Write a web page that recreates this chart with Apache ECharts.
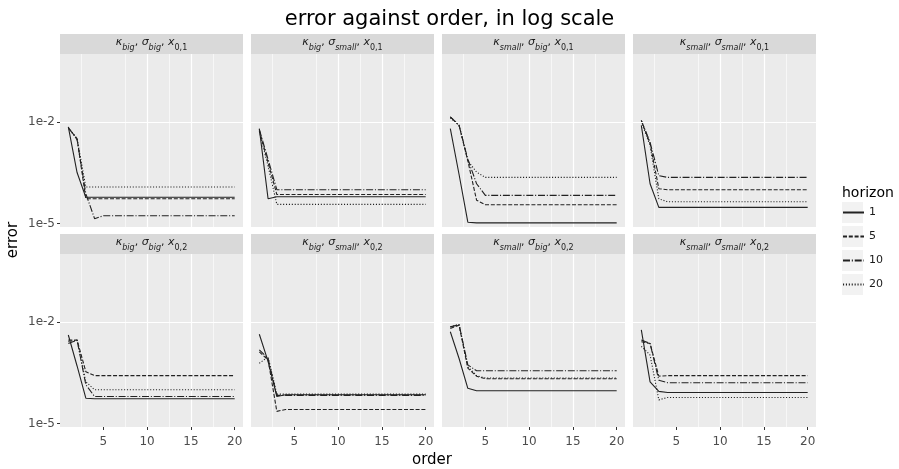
<!DOCTYPE html>
<html><head><meta charset="utf-8">
<script src="https://cdn.jsdelivr.net/npm/echarts@6/dist/echarts.min.js"></script>
<style>html,body{margin:0;padding:0;background:#fff}#c{width:899px;height:469px}</style>
</head><body><div id="c"></div>
<script>
// ---------------- data ----------------
const orders = [1,2,3,4,5,6,7,8,9,10,11,12,13,14,15,16,17,18,19,20];
const horizons = ['1','5','10','20'];
const yTickValues = [1e-2, 1e-5];
const yTickLabels = ['1e-2', '1e-5'];
const xTickValues = [5, 10, 15, 20];
const kappaSub = ['big', 'big', 'small', 'small'];
const sigmaSub = ['big', 'small', 'big', 'small'];
const x0Sub = ['0,1', '0,2'];

// each panel: [horizon 1, horizon 5, horizon 10, horizon 20], error by order 1..20
const kbig_sbig_x1 = [
  [7.1e-3,3.2e-4,6.0e-5,6.0e-5,6.0e-5,6.0e-5,6.0e-5,6.0e-5,6.0e-5,6.0e-5,6.0e-5,6.0e-5,6.0e-5,6.0e-5,6.0e-5,6.0e-5,6.0e-5,6.0e-5,6.0e-5,6.0e-5],
  [6.5e-3,3.2e-3,5.4e-5,5.4e-5,5.4e-5,5.4e-5,5.4e-5,5.4e-5,5.4e-5,5.4e-5,5.4e-5,5.4e-5,5.4e-5,5.4e-5,5.4e-5,5.4e-5,5.4e-5,5.4e-5,5.4e-5,5.4e-5],
  [6.8e-3,3.0e-3,7.6e-5,1.4e-5,1.7e-5,1.7e-5,1.7e-5,1.7e-5,1.7e-5,1.7e-5,1.7e-5,1.7e-5,1.7e-5,1.7e-5,1.7e-5,1.7e-5,1.7e-5,1.7e-5,1.7e-5,1.7e-5],
  [6.8e-3,3.2e-3,1.2e-4,1.2e-4,1.2e-4,1.2e-4,1.2e-4,1.2e-4,1.2e-4,1.2e-4,1.2e-4,1.2e-4,1.2e-4,1.2e-4,1.2e-4,1.2e-4,1.2e-4,1.2e-4,1.2e-4,1.2e-4]
];
const kbig_ssmall_x1 = [
  [6.3e-3,5.4e-5,6.2e-5,6.2e-5,6.2e-5,6.2e-5,6.2e-5,6.2e-5,6.2e-5,6.2e-5,6.2e-5,6.2e-5,6.2e-5,6.2e-5,6.2e-5,6.2e-5,6.2e-5,6.2e-5,6.2e-5,6.2e-5],
  [5.6e-3,6.3e-4,7.2e-5,7.2e-5,7.2e-5,7.2e-5,7.2e-5,7.2e-5,7.2e-5,7.2e-5,7.2e-5,7.2e-5,7.2e-5,7.2e-5,7.2e-5,7.2e-5,7.2e-5,7.2e-5,7.2e-5,7.2e-5],
  [6.0e-3,7.9e-4,1.0e-4,1.0e-4,1.0e-4,1.0e-4,1.0e-4,1.0e-4,1.0e-4,1.0e-4,1.0e-4,1.0e-4,1.0e-4,1.0e-4,1.0e-4,1.0e-4,1.0e-4,1.0e-4,1.0e-4,1.0e-4],
  [5.2e-3,5.0e-4,3.7e-5,3.7e-5,3.7e-5,3.7e-5,3.7e-5,3.7e-5,3.7e-5,3.7e-5,3.7e-5,3.7e-5,3.7e-5,3.7e-5,3.7e-5,3.7e-5,3.7e-5,3.7e-5,3.7e-5,3.7e-5]
];
const ksmall_sbig_x1 = [
  [6.3e-3,2.8e-4,1.1e-5,1.05e-5,1.05e-5,1.05e-5,1.05e-5,1.05e-5,1.05e-5,1.05e-5,1.05e-5,1.05e-5,1.05e-5,1.05e-5,1.05e-5,1.05e-5,1.05e-5,1.05e-5,1.05e-5,1.05e-5],
  [1.4e-2,7.9e-3,7.1e-4,4.9e-5,3.6e-5,3.6e-5,3.6e-5,3.6e-5,3.6e-5,3.6e-5,3.6e-5,3.6e-5,3.6e-5,3.6e-5,3.6e-5,3.6e-5,3.6e-5,3.6e-5,3.6e-5,3.6e-5],
  [1.4e-2,7.9e-3,7.9e-4,1.5e-4,6.8e-5,6.8e-5,6.8e-5,6.8e-5,6.8e-5,6.8e-5,6.8e-5,6.8e-5,6.8e-5,6.8e-5,6.8e-5,6.8e-5,6.8e-5,6.8e-5,6.8e-5,6.8e-5],
  [1.3e-2,7.9e-3,7.1e-4,3.3e-4,2.3e-4,2.3e-4,2.3e-4,2.3e-4,2.3e-4,2.3e-4,2.3e-4,2.3e-4,2.3e-4,2.3e-4,2.3e-4,2.3e-4,2.3e-4,2.3e-4,2.3e-4,2.3e-4]
];
const ksmall_ssmall_x1 = [
  [7.9e-3,1.5e-4,3.0e-5,3.0e-5,3.0e-5,3.0e-5,3.0e-5,3.0e-5,3.0e-5,3.0e-5,3.0e-5,3.0e-5,3.0e-5,3.0e-5,3.0e-5,3.0e-5,3.0e-5,3.0e-5,3.0e-5,3.0e-5],
  [1.1e-2,2.3e-3,1.07e-4,1.0e-4,1.0e-4,1.0e-4,1.0e-4,1.0e-4,1.0e-4,1.0e-4,1.0e-4,1.0e-4,1.0e-4,1.0e-4,1.0e-4,1.0e-4,1.0e-4,1.0e-4,1.0e-4,1.0e-4],
  [1.1e-2,2.5e-3,2.6e-4,2.3e-4,2.3e-4,2.3e-4,2.3e-4,2.3e-4,2.3e-4,2.3e-4,2.3e-4,2.3e-4,2.3e-4,2.3e-4,2.3e-4,2.3e-4,2.3e-4,2.3e-4,2.3e-4,2.3e-4],
  [1.0e-2,2.0e-3,5.4e-5,4.4e-5,4.4e-5,4.4e-5,4.4e-5,4.4e-5,4.4e-5,4.4e-5,4.4e-5,4.4e-5,4.4e-5,4.4e-5,4.4e-5,4.4e-5,4.4e-5,4.4e-5,4.4e-5,4.4e-5]
];
const kbig_sbig_x2 = [
  [4.1e-3,5.0e-4,5.6e-5,5.4e-5,5.4e-5,5.4e-5,5.4e-5,5.4e-5,5.4e-5,5.4e-5,5.4e-5,5.4e-5,5.4e-5,5.4e-5,5.4e-5,5.4e-5,5.4e-5,5.4e-5,5.4e-5,5.4e-5],
  [2.9e-3,2.9e-3,3.4e-4,2.6e-4,2.6e-4,2.6e-4,2.6e-4,2.6e-4,2.6e-4,2.6e-4,2.6e-4,2.6e-4,2.6e-4,2.6e-4,2.6e-4,2.6e-4,2.6e-4,2.6e-4,2.6e-4,2.6e-4],
  [2.3e-3,2.9e-3,1.4e-4,6.3e-5,6.3e-5,6.3e-5,6.3e-5,6.3e-5,6.3e-5,6.3e-5,6.3e-5,6.3e-5,6.3e-5,6.3e-5,6.3e-5,6.3e-5,6.3e-5,6.3e-5,6.3e-5,6.3e-5],
  [2.6e-3,2.9e-3,1.7e-4,1.0e-4,1.0e-4,1.0e-4,1.0e-4,1.0e-4,1.0e-4,1.0e-4,1.0e-4,1.0e-4,1.0e-4,1.0e-4,1.0e-4,1.0e-4,1.0e-4,1.0e-4,1.0e-4,1.0e-4]
];
const kbig_ssmall_x2 = [
  [4.3e-3,6.8e-4,6.3e-5,7.1e-5,7.1e-5,7.1e-5,7.1e-5,7.1e-5,7.1e-5,7.1e-5,7.1e-5,7.1e-5,7.1e-5,7.1e-5,7.1e-5,7.1e-5,7.1e-5,7.1e-5,7.1e-5,7.1e-5],
  [1.3e-3,7.6e-4,2.3e-5,2.6e-5,2.6e-5,2.6e-5,2.6e-5,2.6e-5,2.6e-5,2.6e-5,2.6e-5,2.6e-5,2.6e-5,2.6e-5,2.6e-5,2.6e-5,2.6e-5,2.6e-5,2.6e-5,2.6e-5],
  [1.5e-3,8.3e-4,6.8e-5,6.8e-5,6.8e-5,6.8e-5,6.8e-5,6.8e-5,6.8e-5,6.8e-5,6.8e-5,6.8e-5,6.8e-5,6.8e-5,6.8e-5,6.8e-5,6.8e-5,6.8e-5,6.8e-5,6.8e-5],
  [6.0e-4,9.3e-4,7.4e-5,7.4e-5,7.4e-5,7.4e-5,7.4e-5,7.4e-5,7.4e-5,7.4e-5,7.4e-5,7.4e-5,7.4e-5,7.4e-5,7.4e-5,7.4e-5,7.4e-5,7.4e-5,7.4e-5,7.4e-5]
];
const ksmall_sbig_x2 = [
  [5.1e-3,8.3e-4,1.1e-4,9.3e-5,9.3e-5,9.3e-5,9.3e-5,9.3e-5,9.3e-5,9.3e-5,9.3e-5,9.3e-5,9.3e-5,9.3e-5,9.3e-5,9.3e-5,9.3e-5,9.3e-5,9.3e-5,9.3e-5],
  [6.4e-3,8.0e-3,4.3e-4,2.5e-4,2.1e-4,2.1e-4,2.1e-4,2.1e-4,2.1e-4,2.1e-4,2.1e-4,2.1e-4,2.1e-4,2.1e-4,2.1e-4,2.1e-4,2.1e-4,2.1e-4,2.1e-4,2.1e-4],
  [7.1e-3,8.3e-3,5.4e-4,3.6e-4,3.6e-4,3.6e-4,3.6e-4,3.6e-4,3.6e-4,3.6e-4,3.6e-4,3.6e-4,3.6e-4,3.6e-4,3.6e-4,3.6e-4,3.6e-4,3.6e-4,3.6e-4,3.6e-4],
  [7.1e-3,8.3e-3,4.8e-4,2.6e-4,2.2e-4,2.2e-4,2.2e-4,2.2e-4,2.2e-4,2.2e-4,2.2e-4,2.2e-4,2.2e-4,2.2e-4,2.2e-4,2.2e-4,2.2e-4,2.2e-4,2.2e-4,2.2e-4]
];
const ksmall_ssmall_x2 = [
  [5.8e-3,1.7e-4,8.9e-5,8.3e-5,8.3e-5,8.3e-5,8.3e-5,8.3e-5,8.3e-5,8.3e-5,8.3e-5,8.3e-5,8.3e-5,8.3e-5,8.3e-5,8.3e-5,8.3e-5,8.3e-5,8.3e-5,8.3e-5],
  [2.6e-3,2.3e-3,2.5e-4,2.6e-4,2.6e-4,2.6e-4,2.6e-4,2.6e-4,2.6e-4,2.6e-4,2.6e-4,2.6e-4,2.6e-4,2.6e-4,2.6e-4,2.6e-4,2.6e-4,2.6e-4,2.6e-4,2.6e-4],
  [2.9e-3,2.3e-3,1.9e-4,1.6e-4,1.6e-4,1.6e-4,1.6e-4,1.6e-4,1.6e-4,1.6e-4,1.6e-4,1.6e-4,1.6e-4,1.6e-4,1.6e-4,1.6e-4,1.6e-4,1.6e-4,1.6e-4,1.6e-4],
  [1.9e-3,1.05e-3,5.0e-5,5.9e-5,5.9e-5,5.9e-5,5.9e-5,5.9e-5,5.9e-5,5.9e-5,5.9e-5,5.9e-5,5.9e-5,5.9e-5,5.9e-5,5.9e-5,5.9e-5,5.9e-5,5.9e-5,5.9e-5]
];
const panels = [
  [kbig_sbig_x1, kbig_ssmall_x1, ksmall_sbig_x1, ksmall_ssmall_x1],
  [kbig_sbig_x2, kbig_ssmall_x2, ksmall_sbig_x2, ksmall_ssmall_x2]
];

// ---------------- layout / style ----------------
const FONT = 'DejaVu Sans';
const colLeft = [60, 251, 442, 633];
const colW = 183;
const rowTop = [54, 254];
const rowH = 173;
const stripH = 20;
const lineTypes = ['solid', [4, 1.8], [7, 1.8, 1.1, 1.8], [1.1, 1.8]];

const grids = [], xAxes = [], yAxes = [], series = [], graphics = [];

for (let r = 0; r < 2; r++) {
  for (let c = 0; c < 4; c++) {
    const idx = r * 4 + c;
    grids.push({left: colLeft[c], top: rowTop[r], width: colW, height: rowH,
      show: true, backgroundColor: '#EBEBEB', borderWidth: 0});
    xAxes.push({type: 'value', gridIndex: idx, min: 0.05, max: 20.95, splitNumber: 4,
      axisLine: {show: false},
      axisTick: {show: r === 1, customValues: xTickValues, length: 3, lineStyle: {color: '#333', width: 1}},
      axisLabel: {show: r === 1, customValues: xTickValues, color: '#4D4D4D', fontSize: 12, fontFamily: FONT, margin: 9},
      splitLine: {show: true, showMinLine: false, showMaxLine: false, lineStyle: {color: '#fff', width: 1.2}},
      minorTick: {show: false, splitNumber: 2},
      minorSplitLine: {show: true, lineStyle: {color: '#fff', width: 0.6}}
    });
    yAxes.push({type: 'log', logBase: 10, gridIndex: idx, min: Math.pow(10, -5.1), max: 1,
      axisLine: {show: false},
      axisTick: {show: c === 0, customValues: yTickValues, length: 3, lineStyle: {color: '#333', width: 1}},
      axisLabel: {show: c === 0, customValues: yTickValues, color: '#4D4D4D', fontSize: 12, fontFamily: FONT, margin: 5,
        formatter: function (v) {
          for (let i = 0; i < yTickValues.length; i++) {
            if (Math.abs(Math.log10(v) - Math.log10(yTickValues[i])) < 1e-6) return yTickLabels[i];
          }
          return '';
        }},
      splitLine: {show: true, showMinLine: false, showMaxLine: false, lineStyle: {color: '#fff', width: 0.6}}
    });
    // major horizontal gridlines (thicker)
    series.push({type: 'line', xAxisIndex: idx, yAxisIndex: idx, data: [], z: 1, silent: true,
      markLine: {silent: true, symbol: ['none', 'none'], animation: false, label: {show: false},
        lineStyle: {color: '#fff', width: 1.2, type: 'solid'},
        data: yTickValues.map(v => ({yAxis: v}))}
    });
    const pd = panels[r][c];
    for (let k = 0; k < horizons.length; k++) {
      series.push({type: 'line', name: horizons[k], xAxisIndex: idx, yAxisIndex: idx,
        data: orders.map((o, j) => [o, pd[k][j]]),
        symbol: 'none', silent: true, z: 3,
        lineStyle: {color: '#222', width: 1.1, type: lineTypes[k]}
      });
    }
    // strip
    graphics.push({type: 'rect', z: 0, shape: {x: colLeft[c], y: rowTop[r] - stripH, width: colW, height: stripH},
      style: {fill: '#D9D9D9'}});
    graphics.push({type: 'text', z: 1, x: colLeft[c] + colW / 2, y: rowTop[r] - stripH / 2,
      style: {
        text: '{m|κ}{s|' + kappaSub[c] + '}{n|, }{m|σ}{s|' + sigmaSub[c] + '}{n|, }{m|x}{d|' + x0Sub[r] + '}',
        align: 'center', verticalAlign: 'middle',
        rich: {
          m: {fontFamily: FONT, fontStyle: 'italic', fontSize: 11, fill: '#1A1A1A', lineHeight: 15, verticalAlign: 'top'},
          n: {fontFamily: FONT, fontSize: 11, fill: '#1A1A1A', lineHeight: 15, verticalAlign: 'top'},
          s: {fontFamily: FONT, fontStyle: 'italic', fontSize: 8, fill: '#1A1A1A', lineHeight: 8, verticalAlign: 'bottom'},
          d: {fontFamily: FONT, fontSize: 8, fill: '#1A1A1A', lineHeight: 8, verticalAlign: 'bottom'}
        }
      }});
  }
}

// legend key backgrounds & title
for (let k = 0; k < horizons.length; k++) {
  graphics.push({type: 'rect', z: 0, shape: {x: 842, y: 202 + k * 24, width: 21, height: 21}, style: {fill: '#F2F2F2'}});
}
graphics.push({type: 'text', x: 842, y: 193, style: {text: 'horizon', fontFamily: FONT, fontSize: 14, fill: '#000', align: 'left', verticalAlign: 'middle'}});
// axis titles
graphics.push({type: 'text', x: 13, y: 240, rotation: Math.PI / 2, style: {text: 'error', fontFamily: FONT, fontSize: 15, fill: '#000', align: 'center', verticalAlign: 'middle'}});
graphics.push({type: 'text', x: 432, y: 460, style: {text: 'order', fontFamily: FONT, fontSize: 15, fill: '#000', align: 'center', verticalAlign: 'middle'}});

const chart = echarts.init(document.getElementById('c'), null, {renderer: 'canvas'});
chart.setOption({
  animation: false,
  backgroundColor: '#fff',
  title: {text: 'error against order, in log scale', left: 'center', top: 4,
    textStyle: {fontFamily: FONT, fontSize: 21, fontWeight: 'normal', color: '#000'}},
  legend: {orient: 'vertical', left: 842, top: 202, padding: 0, itemWidth: 21, itemHeight: 21, itemGap: 3,
    data: horizons, selectedMode: false,
    itemStyle: {color: 'rgba(0,0,0,0)', borderWidth: 0, opacity: 0},
    textStyle: {fontFamily: FONT, fontSize: 11, color: '#1A1A1A', lineHeight: 21}},
  grid: grids, xAxis: xAxes, yAxis: yAxes, series: series, graphic: graphics
});
</script></body></html>
